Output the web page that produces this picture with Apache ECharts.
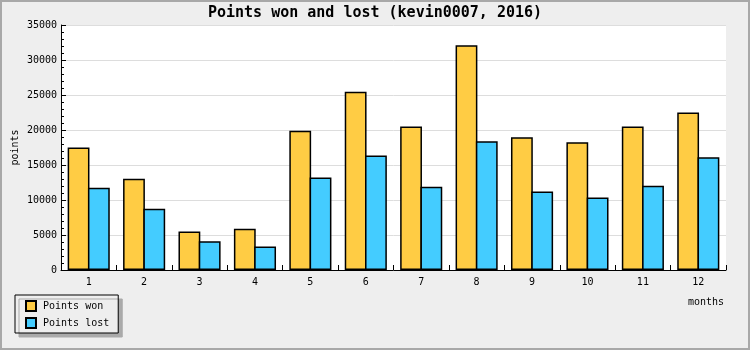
<!DOCTYPE html>
<html>
<head>
<meta charset="utf-8">
<script src="https://cdn.jsdelivr.net/npm/echarts@6/dist/echarts.min.js"></script>
<style>
html,body{margin:0;padding:0;background:#eeeeee;}
#chart{width:750px;height:350px;}
</style>
</head>
<body>
<div id="chart"></div>
<script>
var months = ['1','2','3','4','5','6','7','8','9','10','11','12'];
var pointsWon = [17500, 13050, 5500, 5900, 19900, 25450, 20500, 32100, 18950, 18250, 20500, 22500];
var pointsLost = [11750, 8750, 4100, 3350, 13200, 16350, 11900, 18400, 11200, 10350, 12050, 16100];
var yTicks = [0, 5000, 10000, 15000, 20000, 25000, 30000, 35000];

var mono = 'DejaVu Sans Mono';
var chart = echarts.init(document.getElementById('chart'), null, {renderer: 'canvas'});
chart.setOption({
  animation: false,
  backgroundColor: '#eeeeee',
  title: {
    text: 'Points won and lost (kevin0007, 2016)',
    left: 'center',
    top: 6,
    padding: 0,
    textStyle: {fontFamily: mono, fontWeight: 'bold', fontSize: 15, color: '#000'}
  },
  graphic: [{
    type: 'rect',
    shape: {x: 1, y: 1, width: 748, height: 348},
    style: {fill: 'none', stroke: '#a8a8a8', lineWidth: 2},
    silent: true,
    z: 100
  }],
  legend: {
    orient: 'vertical',
    left: 15,
    top: 295,
    padding: [5, 9, 4, 10],
    itemWidth: 10,
    itemHeight: 10,
    itemGap: 5,
    backgroundColor: '#eeeeee',
    borderColor: '#000',
    borderWidth: 1,
    shadowColor: '#aaaaaa',
    shadowBlur: 0,
    shadowOffsetX: 4,
    shadowOffsetY: 4,
    icon: 'rect',
    textStyle: {fontFamily: mono, fontSize: 10, color: '#000', padding: [0, 0, 0, 2]}
  },
  grid: {
    left: 61, right: 24, top: 25, bottom: 80,
    outerBoundsMode: 'none', containLabel: false,
    show: true, backgroundColor: '#ffffff', borderWidth: 0
  },
  xAxis: {
    type: 'category',
    data: months,
    name: 'months',
    nameLocation: 'end',
    nameGap: 0,
    nameMoveOverlap: false,
    nameTextStyle: {fontFamily: mono, fontSize: 10, color: '#000', align: 'right', verticalAlign: 'top', padding: [27, 2, 0, 0]},
    axisLine: {lineStyle: {color: '#000', width: 1}},
    axisTick: {show: true, inside: true, length: 5, alignWithLabel: false, lineStyle: {color: '#000'}},
    axisLabel: {fontFamily: mono, fontSize: 10, color: '#000', margin: 7},
    splitLine: {show: false}
  },
  yAxis: {
    type: 'value',
    min: 0,
    max: 35000,
    interval: 5000,
    name: 'points',
    nameLocation: 'middle',
    nameGap: 41,
    nameRotate: 90,
    nameMoveOverlap: false,
    nameTextStyle: {fontFamily: mono, fontSize: 10, color: '#000'},
    axisLine: {show: true, lineStyle: {color: '#000', width: 1}},
    axisTick: {show: true, inside: true, length: 5, lineStyle: {color: '#000'}},
    minorTick: {show: true, splitNumber: 5, length: 3, lineStyle: {color: '#000'}},
    axisLabel: {fontFamily: mono, fontSize: 10, color: '#000', margin: 4,
      formatter: function (v) { return yTicks.indexOf(v) >= 0 ? String(v) : ''; }},
    splitLine: {show: true, lineStyle: {color: '#dddddd', width: 1}}
  },
  series: [{
    name: 'Points won',
    type: 'bar',
    data: pointsWon,
    barGap: '-7%',
    barCategoryGap: '24%',
    itemStyle: {color: '#ffcc44', borderColor: '#000', borderWidth: 1.5}
  }, {
    name: 'Points lost',
    type: 'bar',
    data: pointsLost,
    barGap: '-7%',
    barCategoryGap: '24%',
    itemStyle: {color: '#44ccff', borderColor: '#000', borderWidth: 1.5}
  }]
});
</script>
</body>
</html>
